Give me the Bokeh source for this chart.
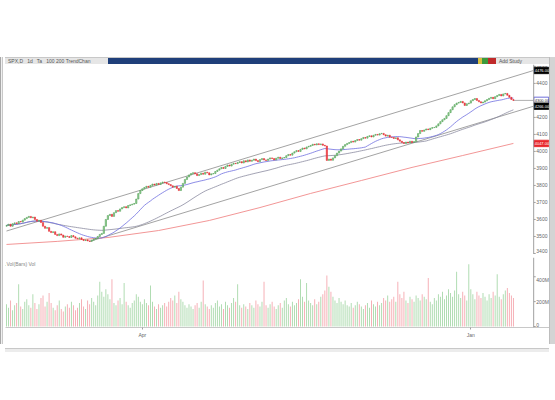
import pandas as pd
from bokeh.plotting import figure
from bokeh.layouts import column, row
from bokeh.models import Div, Range1d, FixedTicker, Label, ColumnDataSource, Span
from bokeh.core.properties import value
from bokeh.embed import file_html
from bokeh.resources import INLINE

# ---------------- data ----------------
closes = [
    3565, 3572, 3560, 3575, 3580, 3576, 3588, 3585, 3596, 3605, 3612, 3618,
    3610, 3614, 3600, 3590, 3595, 3582, 3560, 3548, 3552, 3530, 3523,
    3528, 3512, 3505, 3515, 3508, 3495, 3502, 3500, 3494, 3505, 3498, 3490, 3486, 3492, 3482, 3476, 3480, 3474, 3471,
    3478, 3485, 3488, 3500, 3512, 3518, 3560, 3600, 3623,
    3630, 3618, 3640, 3652, 3648, 3662, 3670, 3675, 3668, 3682, 3686, 3690, 3694,
    3720, 3752, 3770, 3780, 3788, 3795, 3790, 3800, 3808, 3802, 3812, 3806, 3815, 3820, 3817,
    3810, 3805, 3798, 3790, 3795, 3782, 3770,
    3790, 3812, 3835, 3850, 3862, 3870,
    3875, 3868, 3858, 3864, 3872, 3866, 3878, 3874, 3862, 3868, 3870,
    3882, 3890, 3898, 3906, 3900, 3912, 3920, 3914, 3925, 3930, 3928, 3935,
    3940, 3932, 3945, 3938, 3950, 3942, 3948, 3955, 3946, 3940, 3952, 3958, 3950, 3947, 3955, 3962, 3958, 3950, 3960, 3966, 3958, 3962, 3964,
    3975, 3982, 3978, 3990, 3998, 4005, 4000, 4012, 4020, 4015, 4026, 4030, 4035, 4042, 4038, 4045, 4040, 4044, 4036, 4032,
    3947, 3955, 3948, 3962, 3975, 3990, 4002, 4015, 4030, 4040, 4047,
    4052, 4060, 4055, 4064, 4070, 4066, 4075, 4082, 4078, 4088, 4092, 4085, 4095, 4100, 4096, 4104, 4106,
    4098, 4090, 4095, 4084, 4082, 4076, 4080, 4068, 4060, 4052, 4047, 4055, 4050, 4060, 4052, 4058,
    4085, 4105, 4123, 4118, 4126, 4132, 4128, 4136, 4140, 4141,
    4150, 4162, 4175, 4186, 4194, 4210, 4228, 4245, 4262, 4275, 4284, 4288,
    4294, 4285, 4270, 4280, 4284, 4298, 4305, 4311, 4300, 4292, 4285, 4290, 4298, 4305, 4312, 4318, 4310, 4322, 4329, 4335, 4326, 4338, 4341,
    4330, 4318, 4305, 4300,
]
first_open = 3560

volumes = [
    180, 150, 210, 130, 170, 190, 340, 160, 140, 200,
    220, 170, 150, 260, 190, 140, 180, 230, 250, 160,
    200, 270, 190, 150, 130, 170, 210, 140, 120, 160,
    180, 150, 200, 170, 130, 150, 190, 220, 160, 140,
    210, 180, 230, 200, 170, 250, 360, 280, 240, 300,
    260, 220, 380, 190, 170, 210, 230, 180, 350, 200,
    170, 150, 190, 210, 260, 240, 200, 180, 220, 190,
    170, 330, 200, 160, 140, 180, 150, 170, 190, 160,
    200, 230, 210, 250, 190, 280, 220, 200, 170, 150,
    180, 160, 140, 170, 190, 150, 200, 370, 180, 160,
    140, 170, 150, 190, 210, 160, 180, 140, 200, 170,
    150, 190, 230, 200, 340, 170, 150, 180, 160, 140,
    190, 170, 150, 210, 180, 160, 200, 360, 170, 150,
    180, 200, 160, 140, 170, 190, 150, 210, 230, 180,
    160, 200, 170, 190, 220, 380, 240, 200, 350, 210,
    190, 170, 220, 180, 200, 240, 260, 290, 410, 320,
    280, 240, 210, 190, 230, 200, 180, 210, 170, 160,
    190, 150, 170, 200, 180, 160, 140, 170, 190, 150,
    210, 180, 160, 200, 170, 190, 230, 210, 250, 200,
    220, 240, 200, 360, 260, 230, 280, 210, 190, 240,
    220, 200, 250, 230, 210, 260, 240, 220, 390, 200,
    180, 230, 210, 260, 240, 280, 220, 250, 300, 270,
    240, 290, 440, 260, 230, 280, 250, 210, 500, 300,
    260, 220, 280, 250, 230, 270, 240, 210, 260, 230,
    280, 250, 420, 240, 220, 260, 290, 310, 270, 250,
    230,
]

ma200_idx = [0, 25, 50, 75, 100, 125, 150, 175, 200, 225, 250]
ma200_vals = [3453, 3471, 3494, 3535, 3594, 3670, 3753, 3829, 3906, 3976, 4047]

upper_idx = [0, 260]
upper_vals = [3532, 4476]
lower_idx = [41, 260]
lower_vals = [3471, 4266]

price_ticks = [3400, 3500, 3600, 3700, 3800, 3900, 4000, 4100, 4200, 4300, 4400, 4500]
vol_ticks = [0, 200, 400]
vol_tick_labels = ["0", "200M", "400M"]
date_ticks = [67, 229]
date_labels = {67: "Apr", 229: "Jan"}

AXIS_X = 260          # bar position of the right-hand price scale
FONT = value("Liberation Sans")

# ---------------- derived ----------------
n = len(closes)
idx = list(range(n))
opens = [first_open] + closes[:-1]
up = [c >= o for o, c in zip(opens, closes)]
s = pd.Series(closes, dtype=float)
ma20 = s.rolling(20, min_periods=1).mean()
ma50 = s.rolling(50, min_periods=1).mean()

UP_FILL, UP_LINE = "#9fd89f", "#4d9e52"
DN_FILL = "#e8343a"
VOL_UP, VOL_DN = "#a9d9ab", "#f5a9b0"
AX_COL, LBL_COL = "#a0a0a0", "#666666"

src = ColumnDataSource(dict(
    x=idx,
    top=[max(o, c) for o, c in zip(opens, closes)],
    bottom=[min(o, c) for o, c in zip(opens, closes)],
    fill=[UP_FILL if u else DN_FILL for u in up],
    line=[UP_LINE if u else DN_FILL for u in up],
    vol=volumes,
    vcol=[VOL_UP if u else VOL_DN for u in up],
))

FW = 544
xr = Range1d(-0.5, 267.8)


def scale(fig, ticks, labels):
    fig.add_layout(Span(location=AXIS_X, dimension="height", line_color=AX_COL, line_width=1))
    k = len(ticks)
    base = ["middle"] * k
    base[ticks.index(min(ticks))] = "bottom"
    base[ticks.index(max(ticks))] = "top"
    lsrc = ColumnDataSource(dict(x0=[AXIS_X] * k, x1=[AXIS_X + 1] * k, xt=[AXIS_X + 1.3] * k,
                                 y=ticks, t=labels, b=base))
    fig.segment(x0="x0", x1="x1", y0="y", y1="y", line_color=AX_COL, line_width=1, source=lsrc)
    fig.text(x="xt", y="y", text="t", text_baseline="b", text_font=FONT,
             text_font_size=value("5px"), text_color=LBL_COL, source=lsrc)


# ---------------- price panel ----------------
p = figure(frame_width=FW, frame_height=190, x_range=xr, y_range=Range1d(3394, 4511),
           y_axis_location=None, x_axis_location=None,
           output_backend="svg", toolbar_location=None,
           min_border_left=0, min_border_right=0, min_border_top=0, min_border_bottom=0)
p.grid.visible = False
p.outline_line_color = None

p.line(upper_idx, upper_vals, line_color="#8c8c8c", line_width=0.8)
p.line(lower_idx, lower_vals, line_color="#8c8c8c", line_width=0.8)
p.line(ma200_idx, ma200_vals, line_color="#f08a8a", line_width=0.9)
p.line(idx, ma50.tolist(), line_color="#8a8aa0", line_width=0.8)
p.line(idx, ma20.tolist(), line_color="#6f6fe0", line_width=0.8)
p.line([idx[-1], AXIS_X], [closes[-1], closes[-1]], line_color="#9a9a9a", line_width=0.8)
p.vbar(x="x", top="top", bottom="bottom", width=0.6, fill_color="fill",
       line_color="line", line_width=0.6, source=src)

scale(p, price_ticks, [str(t) for t in price_ticks])

tag_vals = [upper_vals[-1], closes[-1], lower_vals[-1], ma200_vals[-1]]
tag_bg = ["black", "white", "black", "#e8262b"]
tag_fg = ["white", "#222222", "white", "white"]
tag_bd = ["black", "#4a4ad0", "black", "#e8262b"]
p.rect(x=[AXIS_X + 3.75] * 4, y=tag_vals, width=7.3, height=38, fill_color=tag_bg,
       line_color=tag_bd, line_width=0.8)
p.text(x=[AXIS_X + 0.5] * 4, y=tag_vals, text=[f"{t:.2f}" for t in tag_vals], text_font=FONT,
       text_font_size=value("4px"), text_color=tag_fg, text_baseline="middle")

# ---------------- volume panel ----------------
v = figure(frame_width=FW, frame_height=70, x_range=xr, y_range=Range1d(-8, 555),
           y_axis_location=None, output_backend="svg", toolbar_location=None,
           min_border_left=0, min_border_right=0, min_border_top=0, min_border_bottom=0)
v.grid.visible = False
v.outline_line_color = None
v.vbar(x="x", top="vol", bottom=0, width=0.45, fill_color="vcol", line_color=None, source=src)
scale(v, vol_ticks, vol_tick_labels)
xax = v.xaxis[0]
xax.ticker = FixedTicker(ticks=date_ticks)
xax.major_label_overrides = date_labels
xax.major_label_text_font_size = "5px"
xax.major_label_text_font = "Liberation Sans"
xax.major_label_text_color = LBL_COL
xax.major_label_standoff = 2
xax.major_tick_out = 2
xax.major_tick_in = 0
xax.axis_line_color = "#c8c8c8"
xax.major_tick_line_color = AX_COL
xax.minor_tick_line_color = None
v.add_layout(Label(x=0, y=530, text="Vol(Bars) Vol", text_font_size="5px",
                   text_color="#888888", text_baseline="top", text_font="Liberation Sans"))

# ---------------- chrome ----------------
toolbar = Div(width=FW, height=64, margin=0, text=(
    '<div style="height:57px;width:544px"></div>'
    '<div style="display:flex;width:544px;height:7px;font:5px Liberation Sans;color:#555;'
    'background:#e6e6e6;border-top:1px solid #c8c8c8;box-sizing:border-box;">'
    '<div style="width:103px;padding-left:3px;line-height:6px;">SPX,D &nbsp; 1d &nbsp; Ta &nbsp; 100 200 TrendChan</div>'
    '<div style="width:370px;background:#1f3f7a;"></div>'
    '<div style="width:4px;background:#d8c040;"></div>'
    '<div style="width:6px;background:#3c9a3c;"></div><div style="width:8px;background:#c02a2a;"></div>'
    '<div style="flex:1;line-height:6px;padding-left:3px;">Add Study</div></div>'))
sep = Div(width=FW, height=3, margin=0,
          text='<div style="height:1px;width:544px;background:#b7e0b0;"></div>')
bottom = Div(width=FW, height=6, margin=0,
             text='<div style="height:2px;width:544px"></div>'
                  '<div style="height:4px;width:544px;border-top:1px solid #c8c8c8;'
                  'background:#ececec;box-sizing:border-box;"></div>')
left_edge = Div(width=5, height=344, margin=0, text=(
    '<div style="height:57px;width:5px"></div>'
    '<div style="height:287px;width:3px;border-left:1px solid #a8a8a8;'
    'border-right:1px solid #c8c8c8;background:#f0f0f0;"></div>'))
scroll = Div(width=6, height=344, margin=0, text=(
    '<div style="height:57px;width:6px"></div>'
    '<div style="height:287px;width:6px;background:#d4d4d4;border-left:1px solid #bdbdbd;'
    'box-sizing:border-box;"></div>'))

layout = row(left_edge, column(toolbar, p, sep, v, bottom, spacing=0), scroll, spacing=0)

open("out.html", "w").write(file_html(layout, INLINE))
